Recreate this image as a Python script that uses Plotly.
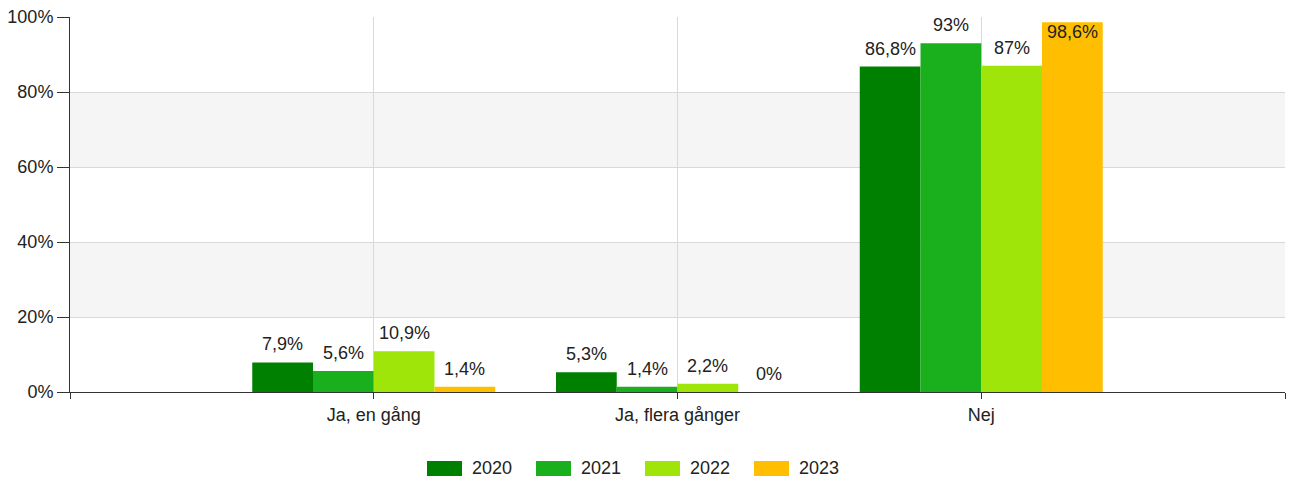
import plotly.graph_objects as go

categories = ["Ja, en gång", "Ja, flera gånger", "Nej"]
years = ["2020", "2021", "2022", "2023"]
values = {
    "2020": [7.9, 5.3, 86.8],
    "2021": [5.6, 1.4, 93.0],
    "2022": [10.9, 2.2, 87.0],
    "2023": [1.4, 0.0, 98.6],
}
colors = {
    "2020": "#008000",
    "2021": "#1aaf1c",
    "2022": "#a0e50a",
    "2023": "#ffbf00",
}
y_ticks = [0, 20, 40, 60, 80, 100]

FONT = "Liberation Sans, Arial, sans-serif"
TXT = "#222222"
BARGAP = 0.2


def fmt(v):
    return f"{v:g}".replace(".", ",") + "%"


x_pos = list(range(len(categories)))
n = len(years)
bar_w = (1 - BARGAP) / n

fig = go.Figure()
annotations = []
for j, yr in enumerate(years):
    vals = values[yr]
    fig.add_trace(go.Bar(
        x=x_pos,
        y=vals,
        name=yr,
        marker=dict(color=colors[yr], line=dict(width=0)),
        showlegend=False,
        hovertemplate=yr + ": %{y}%<extra></extra>",
    ))
    # value labels above each bar (inside the top for bars near 100%)
    for i, v in enumerate(vals):
        inside = v > 95
        annotations.append(dict(
            xref="x", yref="y",
            x=i + (j - (n - 1) / 2) * bar_w,
            y=v,
            text=fmt(v),
            showarrow=False,
            xanchor="center",
            yanchor="top" if inside else "bottom",
            yshift=2 if inside else 6,
            font=dict(family=FONT, size=18, color=TXT),
        ))

# alternating background bands
shapes = []
for lo in (20, 60):
    shapes.append(dict(type="rect", xref="paper", yref="y", x0=0, x1=1,
                       y0=lo, y1=lo + 20, fillcolor="#f5f5f5",
                       line=dict(width=0), layer="below"))

# legend drawn as swatches with labels below the plot
sw_left = 427
sw_step = 109
plot_l, plot_w = 70, 1215
plot_h = 375
for i, yr in enumerate(years):
    x0 = sw_left + i * sw_step
    shapes.append(dict(type="rect", xref="paper", yref="paper",
                       x0=(x0 - plot_l) / plot_w,
                       x1=(x0 + 35 - plot_l) / plot_w,
                       y0=-(476 - 392) / plot_h,
                       y1=-(461 - 392) / plot_h,
                       fillcolor=colors[yr], line=dict(width=0)))
    annotations.append(dict(xref="paper", yref="paper",
                            x=(x0 + 43 - plot_l) / plot_w,
                            y=-(468 - 392) / plot_h,
                            text=yr, showarrow=False,
                            xanchor="left", yanchor="middle",
                            font=dict(family=FONT, size=18, color=TXT)))

fig.update_layout(
    width=1290,
    height=477,
    margin=dict(l=70, r=5, t=17, b=85),
    paper_bgcolor="white",
    plot_bgcolor="white",
    barmode="group",
    bargap=BARGAP,
    bargroupgap=0,
    font=dict(family=FONT, size=18, color=TXT),
    shapes=shapes,
    annotations=annotations,
    xaxis=dict(
        range=[-1, 3],
        tickvals=[-1, 0, 1, 2, 3],
        ticktext=[""] + categories + [""],
        showgrid=True,
        gridcolor="#d9d9d9",
        gridwidth=1,
        zeroline=False,
        showline=True,
        linecolor="#333333",
        linewidth=1,
        ticks="outside",
        ticklen=6,
        tickcolor="#333333",
        tickfont=dict(family=FONT, size=18, color=TXT),
    ),
    yaxis=dict(
        range=[0, 100],
        tickvals=y_ticks,
        ticktext=[f"{t}%" for t in y_ticks],
        showgrid=True,
        gridcolor="#d9d9d9",
        gridwidth=1,
        zeroline=False,
        showline=True,
        linecolor="#333333",
        linewidth=1,
        ticks="outside",
        ticklen=12,
        tickcolor="#333333",
        tickfont=dict(family=FONT, size=18, color=TXT),
    ),
)

fig.write_html("out.html")
